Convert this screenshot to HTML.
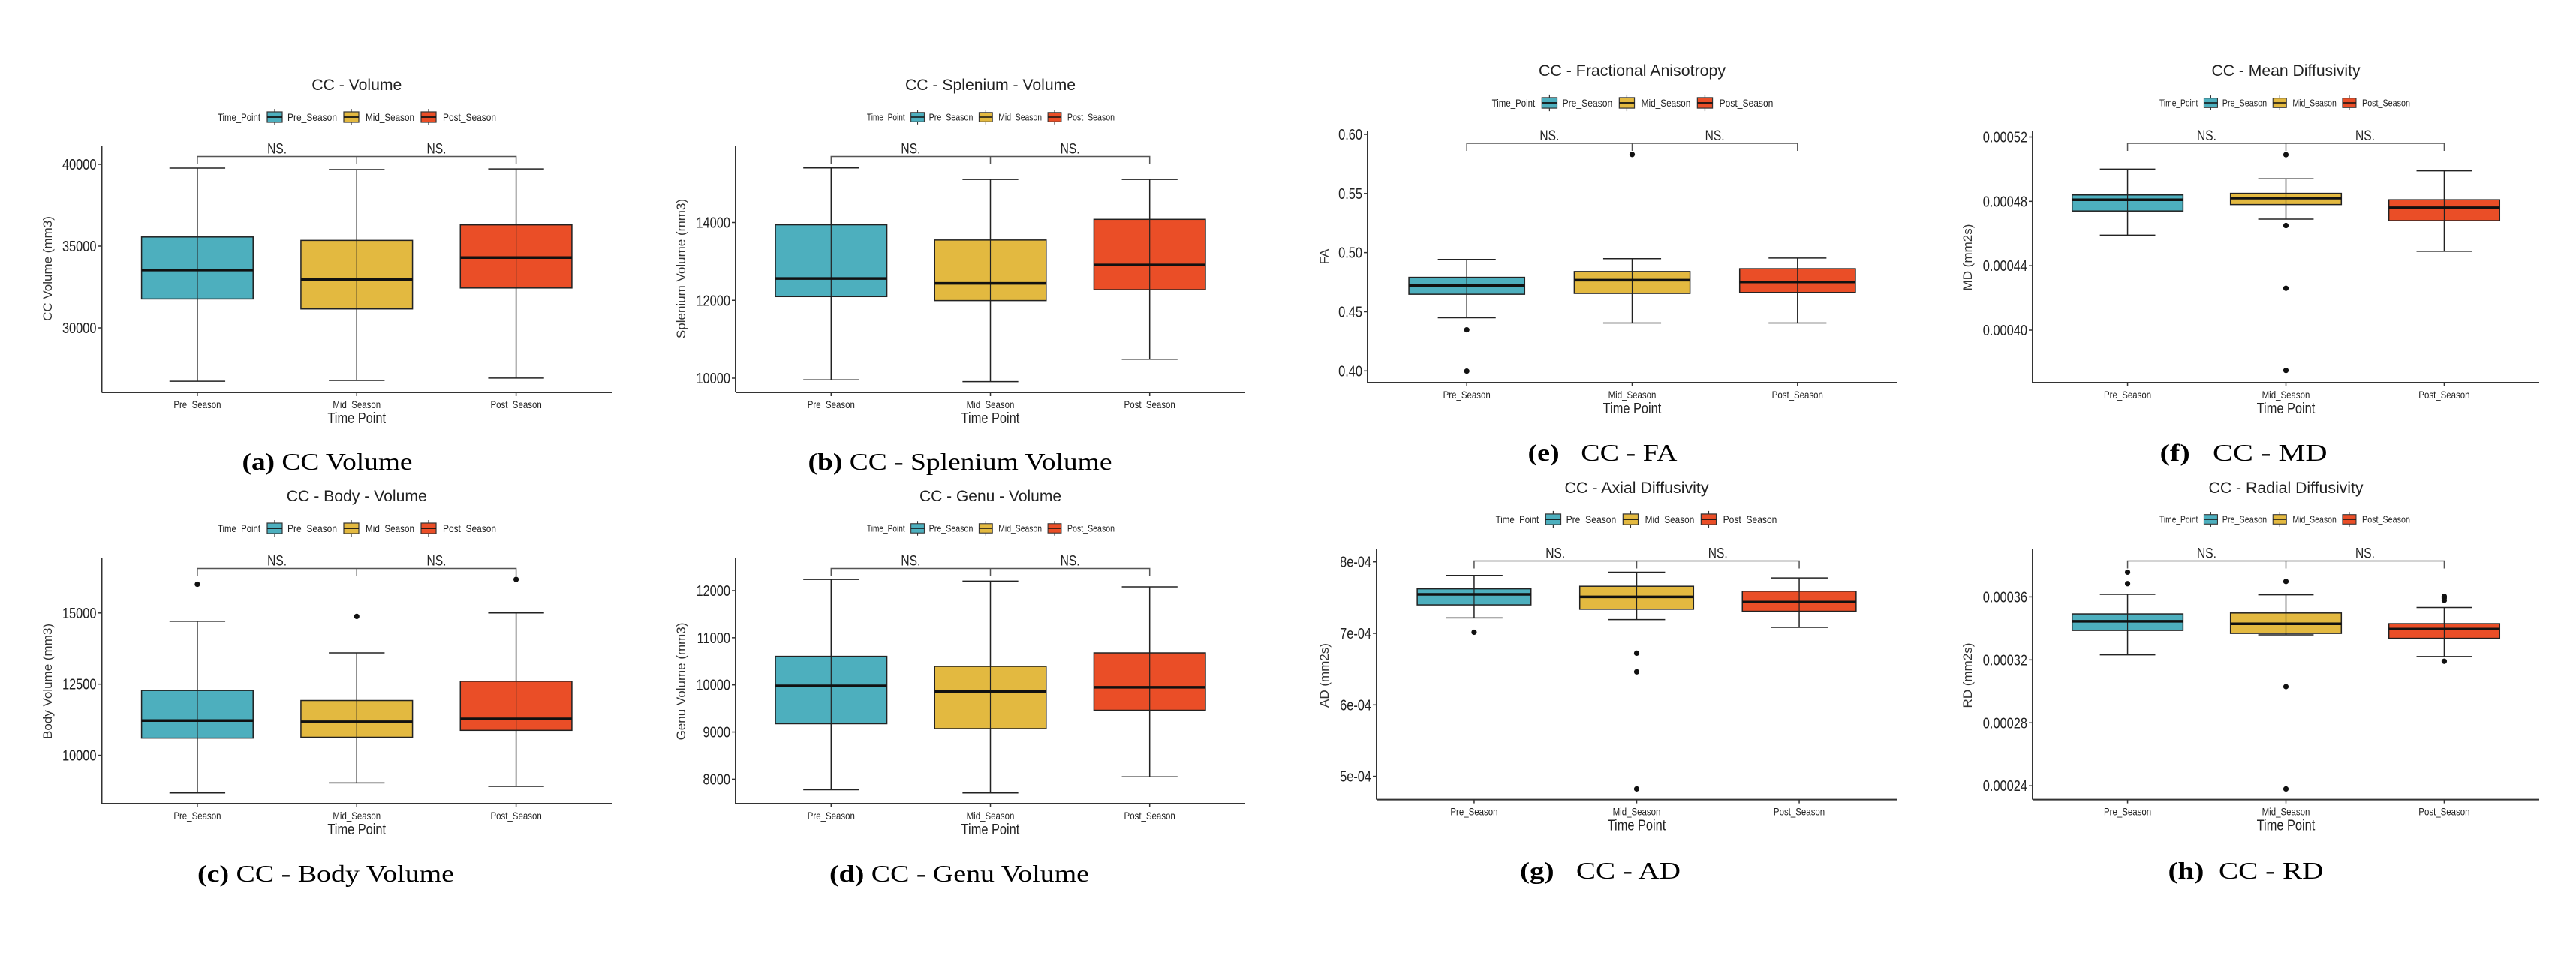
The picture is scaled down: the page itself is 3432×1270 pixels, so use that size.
<!DOCTYPE html>
<html><head><meta charset="utf-8"><style>
html,body{margin:0;padding:0;background:#fff;}
svg{display:block;}
text.cap{white-space:pre;}
</style></head><body>
<svg id="fig" xmlns="http://www.w3.org/2000/svg" width="3432" height="1270" viewBox="0 0 3432 1270"></svg>
<script>
const categories = ['Pre_Season','Mid_Season','Post_Season'];
const colors = ['#4DAFBE','#E3B940','#EA4E27'];

// (a) CC Volume
const aMax=[39770,39680,39720], aQ3=[35560,35350,36300], aMed=[33540,32960,34300], aQ1=[31770,31160,32440], aMin=[26740,26790,26930];
const aOut=[[],[],[]];
const aTicks=[30000,35000,40000], aTickLabels=['30000','35000','40000'];
// (b) Splenium
const bMax=[15402,15107,15107], bQ3=[13941,13550,14081], bMed=[12561,12435,12908], bQ1=[12096,11993,12273], bMin=[9956,9911,10487];
const bOut=[[],[],[]];
const bTicks=[10000,12000,14000], bTickLabels=['10000','12000','14000'];
// (c) Body
const cMax=[14708,13599,15000], cQ3=[12278,11925,12601], cMed=[11220,11179,11280], cQ1=[10605,10635,10877], cMin=[8679,9032,8911];
const cOut=[[16008],[14879],[16179]];
const cTicks=[10000,12500,15000], cTickLabels=['10000','12500','15000'];
// (d) Genu
const dMax=[12237,12201,12079], dQ3=[10606,10393,10679], dMed=[9979,9858,9949], dQ1=[9176,9072,9462], dMin=[7776,7708,8050];
const dOut=[[],[],[]];
const dTicks=[8000,9000,10000,11000,12000], dTickLabels=['8000','9000','10000','11000','12000'];
// (e) FA
const eMax=[0.4942,0.4949,0.4954], eQ3=[0.4791,0.4840,0.4864], eMed=[0.4723,0.4767,0.4752], eQ1=[0.4648,0.4655,0.4663], eMin=[0.4449,0.4405,0.4405];
const eOut=[[0.4347,0.3998],[0.583],[]];
const eTicks=[0.40,0.45,0.50,0.55,0.60], eTickLabels=['0.40','0.45','0.50','0.55','0.60'];
// (f) MD
const fMax=[0.000500,0.000494,0.000499], fQ3=[0.000484,0.000485,0.000481], fMed=[0.000481,0.000482,0.000476], fQ1=[0.000474,0.000478,0.000468], fMin=[0.000459,0.000469,0.000449];
const fOut=[[],[0.000509,0.000465,0.000426,0.000375],[]];
const fTicks=[0.00040,0.00044,0.00048,0.00052], fTickLabels=['0.00040','0.00044','0.00048','0.00052'];
// (g) AD
const gMax=[7.811e-4,7.855e-4,7.775e-4], gQ3=[7.623e-4,7.659e-4,7.590e-4], gMed=[7.546e-4,7.510e-4,7.438e-4], gQ1=[7.398e-4,7.337e-4,7.309e-4], gMin=[7.217e-4,7.193e-4,7.084e-4];
const gOut=[[7.016e-4],[6.723e-4,6.462e-4,4.824e-4],[]];
const gTicks=[5e-4,6e-4,7e-4,8e-4], gTickLabels=['5e-04','6e-04','7e-04','8e-04'];
// (h) RD
const hMax=[0.0003616,0.0003613,0.0003533], hQ3=[0.0003492,0.0003498,0.0003430], hMed=[0.0003445,0.0003429,0.0003396], hQ1=[0.0003387,0.0003368,0.0003337], hMin=[0.0003232,0.0003359,0.0003221];
const hOut=[[0.0003757,0.0003684],[0.0003698,0.0003030,0.0002380],[0.0003604,0.0003593,0.0003578,0.0003191]];
const hTicks=[0.00024,0.00028,0.00032,0.00036], hTickLabels=['0.00024','0.00028','0.00032','0.00036'];

const NS='http://www.w3.org/2000/svg';
const svg=document.getElementById('fig');
function mk(tag,parent,attrs){const e=document.createElementNS(NS,tag);for(const k in attrs)e.setAttribute(k,attrs[k]);parent.appendChild(e);return e;}
function stext(parent,x,y,str,size,anchor,name,sx,len){
  const t=mk('text',parent,{transform:`translate(${x},${y}) scale(${sx||0.82},1)`,'font-family':'"Liberation Sans",Arial,sans-serif','font-size':size,'text-anchor':anchor||'middle',fill:'#222'});
  if(len){t.setAttribute('textLength',len/(sx||0.82));t.setAttribute('lengthAdjust','spacingAndGlyphs');}
  t.textContent=str;
  
  
  return t;
}

const panels=[
 {id:'a',title:'CC - Volume',tw:120,ytitle:'CC Volume (mm3)',cap:['(a)',' CC Volume'],capw:227,L:135.5,R:815,T:194,B:523,vA:40000,yA:219,vB:30000,yB:437,
  mx:aMax,q3:aQ3,md:aMed,q1:aQ1,mn:aMin,out:aOut,ticks:aTicks,tl:aTickLabels,titleY:113,legX:475.5,legY:156,legS:1,brY:208.5,capX:436,capY:615,ytX:63,ytY:358},
 {id:'b',title:'CC - Splenium - Volume',tw:227,ytitle:'Splenium Volume (mm3)',cap:['(b)',' CC - Splenium Volume'],capw:405,L:980,R:1659,T:194,B:523,vA:14000,yA:296.5,vB:10000,yB:504,
  mx:bMax,q3:bQ3,md:bMed,q1:bQ1,mn:bMin,out:bOut,ticks:bTicks,tl:bTickLabels,titleY:113,legX:1320,legY:156,legS:0.89,brY:208.5,capX:1279,capY:615,ytX:907,ytY:358},
 {id:'c',title:'CC - Body - Volume',tw:187,ytitle:'Body Volume (mm3)',cap:['(c)',' CC - Body Volume'],capw:342,L:135.5,R:815,T:743,B:1071,vA:15000,yA:816.8,vB:10000,yB:1006.6,
  mx:cMax,q3:cQ3,md:cMed,q1:cQ1,mn:cMin,out:cOut,ticks:cTicks,tl:cTickLabels,titleY:661,legX:475.5,legY:704,legS:1,brY:757.5,capX:434,capY:1164,ytX:63,ytY:908},
 {id:'d',title:'CC - Genu - Volume',tw:189,ytitle:'Genu Volume (mm3)',cap:['(d)',' CC - Genu Volume'],capw:346,L:980,R:1659,T:743,B:1071,vA:12000,yA:787,vB:8000,yB:1038.4,
  mx:dMax,q3:dQ3,md:dMed,q1:dQ1,mn:dMin,out:dOut,ticks:dTicks,tl:dTickLabels,titleY:661,legX:1320,legY:704,legS:0.89,brY:757.5,capX:1278,capY:1164,ytX:907,ytY:908},
 {id:'e',title:'CC - Fractional Anisotropy',tw:249,ytitle:'FA',cap:['(e)','   CC - FA'],capw:199,L:1822,R:2527,T:175,B:510,vA:0.60,yA:179,vB:0.40,yB:494.3,
  mx:eMax,q3:eQ3,md:eMed,q1:eQ1,mn:eMin,out:eOut,ticks:eTicks,tl:eTickLabels,titleY:94,legX:2175,legY:137,legS:1.01,brY:191,capX:2135,capY:603,ytX:1764,ytY:342},
 {id:'f',title:'CC - Mean Diffusivity',tw:198,ytitle:'MD (mm2s)',cap:['(f)','   CC - MD'],capw:223,L:2708,R:3383,T:175,B:510,vA:0.00052,yA:182.5,vB:0.00040,yB:440,
  mx:fMax,q3:fQ3,md:fMed,q1:fQ1,mn:fMin,out:fOut,ticks:fTicks,tl:fTickLabels,titleY:94,legX:3044,legY:137,legS:0.9,brY:191,capX:2989,capY:603,ytX:2621,ytY:343},
 {id:'g',title:'CC - Axial Diffusivity',tw:192,ytitle:'AD (mm2s)',cap:['(g)','   CC - AD'],capw:214,L:1834,R:2527,T:732,B:1065.6,vA:8e-4,yA:748.7,vB:5e-4,yB:1034.6,
  mx:gMax,q3:gQ3,md:gMed,q1:gQ1,mn:gMin,out:gOut,ticks:gTicks,tl:gTickLabels,titleY:650,legX:2180,legY:692,legS:1.01,brY:747.5,capX:2132,capY:1160,ytX:1764,ytY:900},
 {id:'h',title:'CC - Radial Diffusivity',tw:206,ytitle:'RD (mm2s)',cap:['(h)','  CC - RD'],capw:207,L:2708,R:3383,T:732,B:1065.6,vA:0.00036,yA:795.4,vB:0.00024,yB:1047.2,
  mx:hMax,q3:hQ3,md:hMed,q1:hQ1,mn:hMin,out:hOut,ticks:hTicks,tl:hTickLabels,titleY:650,legX:3044,legY:692,legS:0.9,brY:747.5,capX:2992,capY:1160,ytX:2621,ytY:900}
];

function legend(parent,cx,cy,s){
  const g=mk('g',parent,{transform:`translate(${cx-185.5*s},${cy}) scale(${s})`});
  
  
  stext(g,0,5,'Time_Point',14,'start','legend-title',0.82,57);
  const keys=[66,168,271], labs=[[93,66],[197,65],[300,71]];
  for(let i=0;i<3;i++){
    const k=mk('g',g,{});
    
    
    mk('line',k,{x1:keys[i]+10,x2:keys[i]+10,y1:-11,y2:11,stroke:'#333','stroke-width':1.2});
    mk('rect',k,{x:keys[i],y:-7,width:20,height:14,fill:colors[i],stroke:'#333','stroke-width':1.2});
    mk('line',k,{x1:keys[i],x2:keys[i]+20,y1:0,y2:0,stroke:'#111','stroke-width':1.8});
    stext(g,labs[i][0],5,categories[i],14,'start','legend-label-'+categories[i].toLowerCase().replace('_','-'),0.82,labs[i][1]);
  }
}

panels.forEach(p=>{
  const g=mk('g',svg,{});
  
  
  const W=p.R-p.L;
  const xs=i=>p.L+(0.6+i)/3.2*W;
  const unit=W/3.2;
  const ys=v=>p.yA+(v-p.vA)/(p.vB-p.vA)*(p.yB-p.yA);
  stext(g,(p.L+p.R)/2,p.titleY+7,p.title,21,'middle','chart-title',0.82,p.tw);
  legend(g,p.legX,p.legY,p.legS);
  const ax=mk('line',g,{x1:p.L,x2:p.L,y1:p.T,y2:p.B,stroke:'#333','stroke-width':2});
  
  
  const bx=mk('line',g,{x1:p.L,x2:p.R,y1:p.B,y2:p.B,stroke:'#333','stroke-width':2});
  
  
  p.ticks.forEach((t,i)=>{
    const y=ys(t);
    mk('line',g,{x1:p.L-5,x2:p.L,y1:y,y2:y,stroke:'#333','stroke-width':1.5});
    stext(g,p.L-7,y+7,p.tl[i],20,'end','y-tick-label',0.82);
  });
  categories.forEach((c,i)=>{
    const x=xs(i);
    mk('line',g,{x1:x,x2:x,y1:p.B,y2:p.B+5,stroke:'#333','stroke-width':1.5});
    stext(g,x,p.B+21,c,14,'middle','x-tick-label',0.82);
  });
  stext(g,(p.L+p.R)/2,p.B+41,'Time Point',20,'middle','x-axis-title',0.82);
  const yt=mk('text',g,{transform:`translate(${p.ytX+6},${p.ytY}) rotate(-90)`,'font-family':'"Liberation Sans",Arial,sans-serif','font-size':17,'text-anchor':'middle',fill:'#333'});
  yt.textContent=p.ytitle;
  
  
  const hw=0.35*unit, cw=0.175*unit;
  categories.forEach((c,i)=>{
    const x=xs(i);
    const bg=mk('g',g,{});
    
    
    mk('line',bg,{x1:x,x2:x,y1:ys(p.mx[i]),y2:ys(p.mn[i]),stroke:'#222','stroke-width':1.5});
    mk('line',bg,{x1:x-cw,x2:x+cw,y1:ys(p.mx[i]),y2:ys(p.mx[i]),stroke:'#222','stroke-width':1.5});
    mk('line',bg,{x1:x-cw,x2:x+cw,y1:ys(p.mn[i]),y2:ys(p.mn[i]),stroke:'#222','stroke-width':1.5});
    mk('rect',bg,{x:x-hw,y:ys(p.q3[i]),width:2*hw,height:ys(p.q1[i])-ys(p.q3[i]),fill:colors[i],stroke:'#222','stroke-width':1.5});
    mk('line',bg,{x1:x,x2:x,y1:ys(p.q3[i]),y2:ys(p.q1[i]),stroke:'#222','stroke-width':1.2});
    mk('line',bg,{x1:x-hw,x2:x+hw,y1:ys(p.md[i]),y2:ys(p.md[i]),stroke:'#111','stroke-width':3.5});
    p.out[i].forEach(v=>{
      const o=mk('circle',bg,{cx:x,cy:ys(v),r:3.6,fill:'#111'});
      
      
    });
  });
  const br=mk('path',g,{d:`M${xs(0)},${p.brY+10}V${p.brY}H${xs(2)}V${p.brY+10}M${xs(1)},${p.brY}V${p.brY+10}`,fill:'none',stroke:'#555','stroke-width':1.5});
  
  
  stext(g,(xs(0)+xs(1))/2,p.brY-4,'NS.',19,'middle','ns-label',0.82);
  stext(g,(xs(1)+xs(2))/2,p.brY-4,'NS.',19,'middle','ns-label',0.82);
  const ct=mk('text',g,{class:'cap',x:p.capX-p.capw/2,y:p.capY+11,'font-family':'"Liberation Serif","Times New Roman",serif','font-size':32,fill:'#000',textLength:p.capw,lengthAdjust:'spacingAndGlyphs'});
  ct.setAttribute('xml:space','preserve');
  
  
  const t1=mk('tspan',ct,{'font-weight':'bold'});t1.textContent=p.cap[0];
  const t2=mk('tspan',ct,{});t2.textContent=p.cap[1];
});
</script>
</body></html>
